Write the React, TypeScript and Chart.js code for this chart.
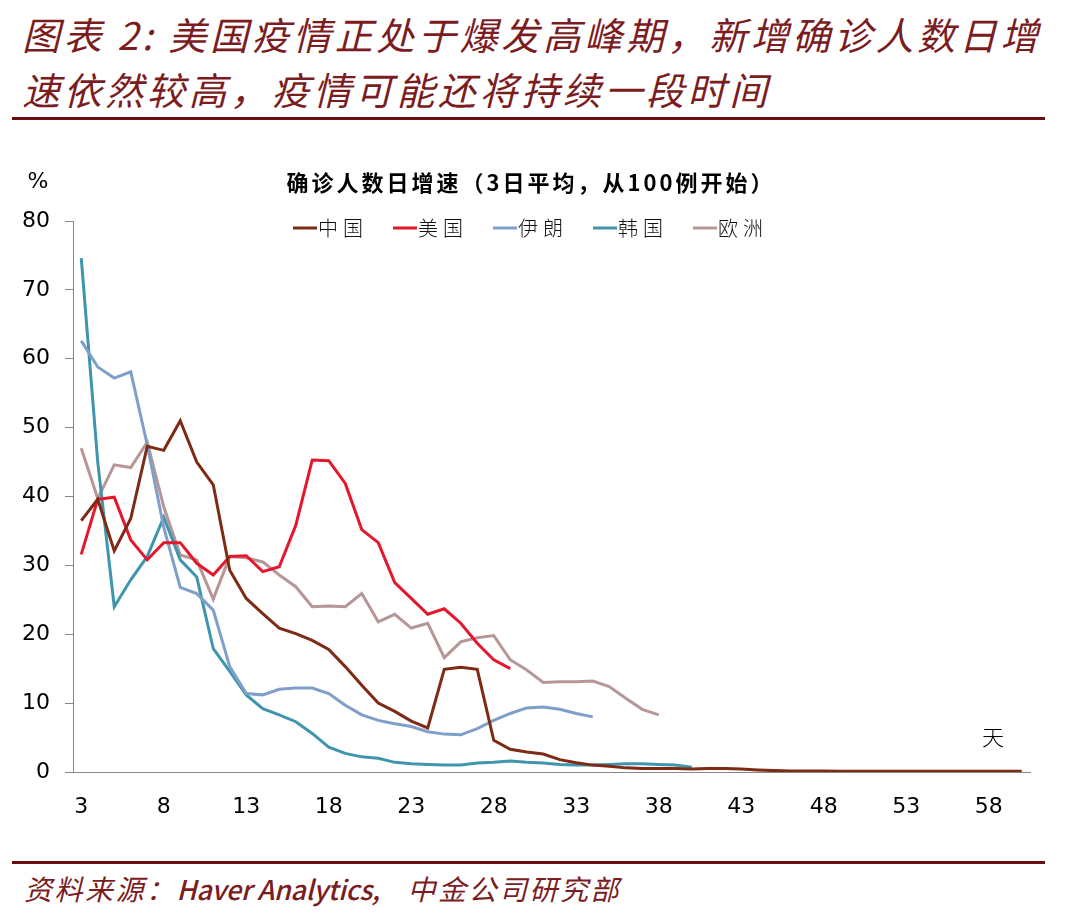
import { useEffect, useRef } from "react";
import { Chart, registerables } from "chart.js";

Chart.register(...registerables);

const days = ["3","4","5","6","7","8","9","10","11","12","13","14","15","16","17","18","19","20","21","22","23","24","25","26","27","28","29","30","31","32","33","34","35","36","37","38","39","40","41","42","43","44","45","46","47","48","49","50","51","52","53","54","55","56","57","58","59","60"];
const xTickLabels = ["3","8","13","18","23","28","33","38","43","48","53","58"];

const china = [36.5,39.6,32.1,36.8,47.3,46.7,51.0,45.0,41.7,29.3,25.2,23.0,20.9,20.1,19.1,17.8,15.3,12.6,10.0,8.8,7.4,6.4,14.9,15.2,14.9,4.6,3.3,2.9,2.6,1.8,1.35,1.0,0.85,0.6,0.5,0.5,0.5,0.45,0.5,0.5,0.45,0.3,0.2,0.15,0.15,0.15,0.12,0.12,0.1,0.1,0.1,0.1,0.1,0.1,0.1,0.1,0.1,0.1];
const usa = [31.6,39.6,39.9,33.7,30.8,33.3,33.3,30.3,28.6,31.3,31.4,29.1,29.8,35.8,45.3,45.2,41.9,35.2,33.3,27.5,25.2,22.9,23.7,21.6,18.7,16.3,15.0];
const iran = [62.6,58.8,57.2,58.1,47.5,35.5,26.8,25.9,23.5,15.3,11.4,11.2,12.0,12.2,12.2,11.4,9.7,8.3,7.5,7.0,6.6,5.85,5.5,5.4,6.3,7.5,8.5,9.3,9.45,9.1,8.5,8.0];
const korea = [74.6,45.0,24.0,27.9,31.3,37.0,30.8,28.3,17.9,14.6,11.2,9.2,8.3,7.3,5.6,3.6,2.7,2.2,2.0,1.4,1.2,1.1,1.0,1.0,1.3,1.4,1.6,1.4,1.3,1.1,1.0,1.0,1.1,1.2,1.2,1.1,1.0,0.7];
const europe = [47.0,39.7,44.6,44.2,47.9,38.5,31.5,30.8,25.1,31.3,31.1,30.5,28.6,26.9,24.0,24.1,24.0,25.9,21.8,22.9,20.9,21.6,16.6,18.9,19.5,19.8,16.3,14.8,13.0,13.1,13.1,13.2,12.4,10.7,9.1,8.3];

const seriesNames = ["中国", "美国", "伊朗", "韩国", "欧洲"];
const seriesColors = ["#7e2a14", "#e5172c", "#7f9fc9", "#3f95ae", "#b69696"];

const chartTitle = "确诊人数日增速（3日平均，从100例开始）";
const yUnit = "%";
const xUnit = "天";

const textPlugin = {
  id: "textOverlay",
  afterDraw(chart: any) {
    const ctx = chart.ctx as CanvasRenderingContext2D;
    ctx.save();
    (ctx as any).letterSpacing = "3px";
    ctx.fillStyle = "#000";
    ctx.font = 'bold 22px "Noto Sans CJK SC", sans-serif';
    ctx.textAlign = "center";
    ctx.textBaseline = "middle";
    ctx.fillText(chartTitle, 531, 53);
    (ctx as any).letterSpacing = "0px";
    ctx.font = '22px "DejaVu Sans", sans-serif';
    ctx.fillText(yUnit, 38, 52);
    ctx.font = '300 22px "Noto Sans CJK SC", sans-serif';
    ctx.fillText(xUnit, 993, 607);
    const ds = chart.data.datasets;
    ctx.textAlign = "left";
    ctx.font = '300 20px "Noto Sans CJK SC", sans-serif';
    (ctx as any).letterSpacing = "5px";
    for (let i = 0; i < ds.length; i++) {
      const x0 = 293 + 100 * i;
      const y0 = 98;
      ctx.strokeStyle = ds[i].borderColor;
      ctx.lineWidth = 3;
      ctx.beginPath();
      ctx.moveTo(x0, y0);
      ctx.lineTo(x0 + 24, y0);
      ctx.stroke();
      ctx.fillStyle = "#111";
      ctx.fillText(ds[i].label, x0 + 25, y0);
    }
    ctx.restore();
  },
};

export default function App() {
  const ref = useRef<HTMLCanvasElement | null>(null);

  useEffect(() => {
    if (!ref.current) return;
    const seriesData = [china, usa, iran, korea, europe];
    const chart = new Chart(ref.current, {
      type: "line",
      data: {
        labels: days,
        datasets: seriesData.map((d, i) => ({
          label: seriesNames[i],
          data: d,
          borderColor: seriesColors[i],
          backgroundColor: seriesColors[i],
          borderWidth: 3,
          pointRadius: 0,
          tension: 0,
          fill: false,
          spanGaps: false,
        })),
      },
      options: {
        animation: false,
        responsive: false,
        maintainAspectRatio: false,
        layout: { padding: { top: 91, right: 42, left: 0, bottom: 0 } },
        plugins: {
          legend: { display: false },
          title: { display: false },
          tooltip: { enabled: false },
        },
        scales: {
          x: {
            type: "category",
            offset: true,
            grid: { display: false, drawTicks: false },
            border: { display: true, color: "#868686", width: 1 },
            ticks: {
              autoSkip: false,
              maxRotation: 0,
              minRotation: 0,
              padding: 22,
              color: "#000",
              font: { family: '"DejaVu Sans", sans-serif', size: 22 },
              callback: (_v: any, i: number) => (xTickLabels.includes(days[i]) ? days[i] : ""),
            },
            afterFit: (s: any) => {
              s.height = 78;
            },
          },
          y: {
            min: 0,
            max: 80,
            grid: { drawOnChartArea: false, drawTicks: true, tickLength: 8, color: "#868686" },
            border: { display: true, color: "#868686", width: 1 },
            ticks: {
              stepSize: 10,
              padding: 15,
              color: "#000",
              font: { family: '"DejaVu Sans", sans-serif', size: 22 },
            },
            afterFit: (s: any) => {
              s.width = 73;
            },
          },
        },
      } as any,
      plugins: [textPlugin],
    });
    return () => chart.destroy();
  }, []);

  const red = "#7b1c1f";
  return (
    <div style={{ position: "absolute", left: 0, top: 0, width: 1072, height: 922, background: "#fff", overflow: "hidden" }}>
      <div
        style={{
          position: "absolute",
          left: 22,
          top: 6,
          fontSize: 38,
          lineHeight: "55px",
          fontStyle: "italic",
          color: red,
          fontFamily: '"Noto Sans CJK SC", sans-serif',
          letterSpacing: 3.6,
          whiteSpace: "nowrap",
        }}
      >
        图表 2: 美国疫情正处于爆发高峰期，新增确诊人数日增
        <br />
        速依然较高，疫情可能还将持续一段时间
      </div>
      <div style={{ position: "absolute", left: 12, top: 117, width: 1033, height: 3, background: "#6c0d12" }} />
      <canvas ref={ref} width={1072} height={720} style={{ position: "absolute", left: 0, top: 130, width: 1072, height: 720 }} />
      <div style={{ position: "absolute", left: 12, top: 861, width: 1033, height: 3, background: "#6c0d12" }} />
      <div
        style={{
          position: "absolute",
          left: 24,
          top: 869,
          fontSize: 28,
          lineHeight: "38px",
          fontStyle: "italic",
          color: red,
          fontFamily: '"Noto Sans CJK SC", sans-serif',
          letterSpacing: 2.5,
          whiteSpace: "nowrap",
        }}
      >
        资料来源：<span style={{ letterSpacing: -0.3, fontSize: 27, fontWeight: 500 }}>Haver Analytics,</span>
        <span style={{ marginLeft: 28 }}>中金公司研究部</span>
      </div>
    </div>
  );
}
